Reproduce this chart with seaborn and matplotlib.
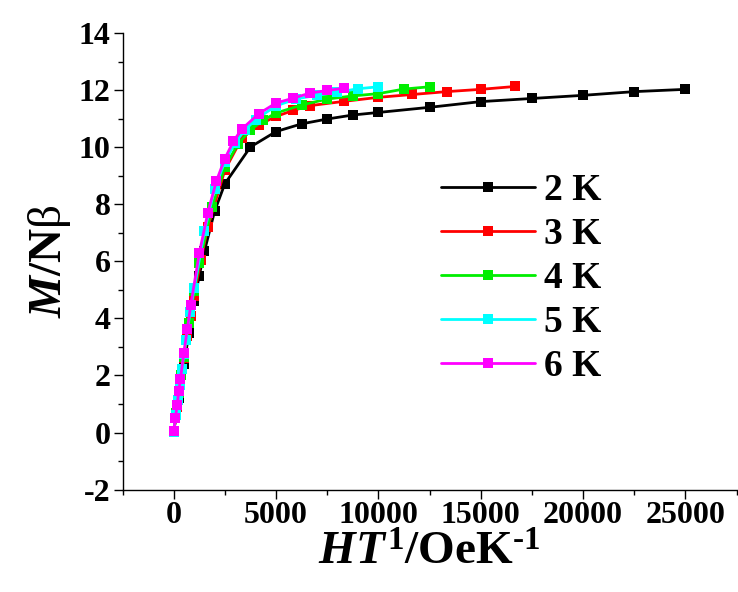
import numpy as np
import pandas as pd
import matplotlib
matplotlib.use("Agg")
import matplotlib.pyplot as plt
from matplotlib.ticker import MultipleLocator
import seaborn as sns

# Reduced magnetization M/Nβ versus H/T at several temperatures
x_2K = [0, 250, 500, 750, 1000, 1250, 1500, 2000, 2500, 3750, 5000, 6250, 7500,
        8750, 10000, 12500, 15000, 17500, 20000, 22500, 25000]
m_2K = [0.02, 1.2, 2.4, 3.5, 4.6, 5.5, 6.35, 7.76, 8.72, 10.01, 10.55, 10.82, 10.99,
        11.13, 11.22, 11.4, 11.6, 11.71, 11.82, 11.95, 12.03]

x_3K = [0, 167, 333, 500, 667, 833, 1000, 1333, 1667, 2500, 3333, 4167, 5000,
        5833, 6667, 8333, 10000, 11667, 13333, 15000, 16667]
m_3K = [0.02, 0.9, 1.75, 2.6, 3.4, 4.1, 4.8, 6.05, 7.2, 9.2, 10.32, 10.79, 11.08,
        11.29, 11.46, 11.61, 11.75, 11.85, 11.95, 12.03, 12.13]

x_4K = [0, 125, 250, 375, 500, 625, 750, 1000, 1250, 1875, 2500, 3125, 3750,
        4375, 5000, 6250, 7500, 8750, 10000, 11250, 12500]
m_4K = [0.02, 0.7, 1.38, 2.0, 2.65, 3.25, 3.85, 4.95, 5.95, 7.9, 9.3, 10.1, 10.6,
        10.95, 11.2, 11.48, 11.69, 11.8, 11.88, 12.04, 12.12]

x_5K = [0, 100, 200, 300, 400, 500, 600, 800, 1000, 1500, 2000, 2500, 3000,
        3500, 4000, 5000, 6000, 7000, 8000, 9000, 10000]
m_5K = [0.02, 0.6, 1.15, 1.68, 2.22, 2.75, 3.25, 4.22, 5.05, 7.05, 8.55, 9.5, 10.15,
        10.62, 10.97, 11.45, 11.7, 11.82, 11.93, 12.05, 12.12]

x_6K = [0, 83, 167, 250, 333, 500, 667, 833, 1250, 1667, 2083, 2500, 2917,
        3333, 4167, 5000, 5833, 6667, 7500, 8333]
m_6K = [0.05, 0.5, 0.95, 1.46, 1.89, 2.8, 3.64, 4.46, 6.28, 7.7, 8.81, 9.6, 10.21,
        10.64, 11.18, 11.55, 11.72, 11.9, 11.99, 12.07]

labels = ["2 K", "3 K", "4 K", "5 K", "6 K"]
colors = ["#000000", "#ff0000", "#00ee00", "#00ffff", "#ff00ff"]

series_x = [x_2K, x_3K, x_4K, x_5K, x_6K]
series_m = [m_2K, m_3K, m_4K, m_5K, m_6K]
df = pd.concat(
    [pd.DataFrame({"HT": xs, "M": ms, "T": lab})
     for xs, ms, lab in zip(series_x, series_m, labels)],
    ignore_index=True,
)

sns.set_theme(style="ticks")
plt.rcParams["font.family"] = ["Liberation Serif", "DejaVu Serif"]
plt.rcParams["font.weight"] = "bold"
plt.rcParams["axes.unicode_minus"] = False
plt.rcParams["text.color"] = "black"
plt.rcParams["axes.labelcolor"] = "black"
plt.rcParams["xtick.color"] = "black"
plt.rcParams["ytick.color"] = "black"
plt.rcParams["mathtext.fontset"] = "custom"
plt.rcParams["mathtext.rm"] = "Liberation Serif:bold"
plt.rcParams["mathtext.it"] = "Liberation Serif:italic:bold"
plt.rcParams["mathtext.bf"] = "Liberation Serif:bold"

fig = plt.figure(figsize=(7.38, 5.92), dpi=100)
ax = fig.add_axes([0.166, 0.173, 0.832, 0.771])

sns.lineplot(
    data=df, x="HT", y="M", hue="T", hue_order=labels, palette=colors,
    sort=False, estimator=None, marker="s", markersize=6.5,
    markeredgewidth=0, linewidth=2.0, ax=ax,
)

ax.set_xlim(-2500, 27500)
ax.set_ylim(-2, 14)
ax.xaxis.set_major_locator(MultipleLocator(5000))
ax.xaxis.set_minor_locator(MultipleLocator(2500))
ax.yaxis.set_major_locator(MultipleLocator(2))
ax.yaxis.set_minor_locator(MultipleLocator(1))
ax.set_xticks([0, 5000, 10000, 15000, 20000, 25000])

for side in ("top", "right"):
    ax.spines[side].set_visible(False)
for side in ("left", "bottom"):
    ax.spines[side].set_linewidth(1.0)
    ax.spines[side].set_color("black")

ax.tick_params(axis="both", which="major", direction="out", length=6.5, width=1.0,
               labelsize=23, color="black", labelcolor="black", pad=2)
ax.tick_params(axis="both", which="minor", direction="out", length=3.5, width=1.0,
               color="black")
for lab in ax.get_xticklabels() + ax.get_yticklabels():
    lab.set_fontweight("bold")

ax.set_xlabel(r"$\mathit{HT}^{\mathit{1}}\mathbf{/OeK}^{\mathbf{‐1}}$", fontsize=34,
              labelpad=1, color="black")
ax.set_ylabel(r"$\mathit{M}\mathbf{/N}$" + "β", fontsize=34, labelpad=4,
              color="black")

leg = ax.legend(
    loc="upper left", bbox_to_anchor=(0.598, 0.708), bbox_transform=fig.transFigure,
    frameon=False, fontsize=27, handlelength=2.5, labelspacing=0.24,
    handletextpad=0.25, borderaxespad=0, borderpad=0,
)
for t in leg.get_texts():
    t.set_fontweight("bold")
    t.set_color("black")

fig.savefig("out.png", dpi=100)
